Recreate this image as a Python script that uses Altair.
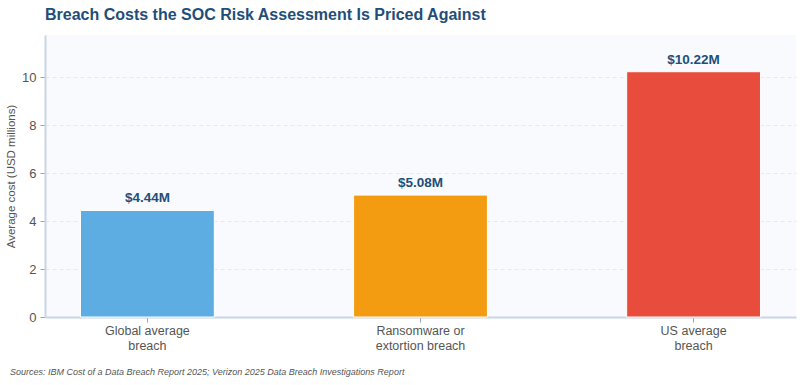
import altair as alt
import pandas as pd

categories = ["Global average\nbreach", "Ransomware or\nextortion breach", "US average\nbreach"]
values = [4.44, 5.08, 10.22]
colors = ["#5dade2", "#f39c12", "#e74c3c"]
source_note = "Sources: IBM Cost of a Data Breach Report 2025; Verizon 2025 Data Breach Investigations Report"

df = pd.DataFrame({"category": categories, "value": values, "color": colors})

FONT = "Liberation Sans"

x_enc = alt.X(
    "category:N",
    sort=categories,
    scale=alt.Scale(paddingInner=0.51, paddingOuter=0.13),
    axis=alt.Axis(
        title=None,
        labelAngle=0,
        labelExpr="split(datum.value, '\\n')",
        labelFontSize=12.5,
        labelColor="#555555",
        labelFont=FONT,
        labelLineHeight=15,
        labelPadding=2,
        tickColor="#9aa5b1",
        tickSize=5,
        domainColor="#c9d6e6",
        domainWidth=2,
        grid=False,
    ),
)

y_enc = alt.Y(
    "value:Q",
    scale=alt.Scale(domain=[0, 11.75], nice=False),
    axis=alt.Axis(
        title="Average cost (USD millions)",
        titleFont=FONT,
        titleFontSize=11.5,
        titleFontWeight="normal",
        titleColor="#555555",
        titlePadding=5,
        values=[0, 2, 4, 6, 8, 10],
        labelFontSize=13,
        labelColor="#555555",
        labelFont=FONT,
        labelPadding=4,
        tickColor="#9aa5b1",
        tickSize=5,
        domainColor="#c9d6e6",
        domainWidth=2,
        gridColor="#e6e9ef",
        gridDash=[4, 3],
        gridWidth=1,
    ),
)

base = alt.Chart(df).encode(x=x_enc, y=y_enc)

bars = base.mark_bar(stroke="white", strokeWidth=1).encode(
    color=alt.Color("color:N", scale=None)
)

labels = base.transform_calculate(
    lbl="'$' + format(datum.value, '.2f') + 'M'"
).mark_text(
    baseline="bottom", dy=-5, font=FONT, fontSize=13.5, fontWeight="bold", color="#1f4e79"
).encode(text="lbl:N")

note = alt.Chart(pd.DataFrame({"t": [source_note]})).mark_text(
    align="left", baseline="middle", font=FONT, fontSize=9, fontStyle="italic", color="#555555"
).encode(text="t:N", x=alt.value(-35), y=alt.value(337))

chart = alt.layer(bars, labels, note).properties(
    width=751,
    height=282,
    padding={"left": 45, "top": 35, "right": 4, "bottom": 68},
    autosize=alt.AutoSizeParams(type="none"),
    background="white",
    title=alt.Title(
        "Breach Costs the SOC Risk Assessment Is Priced Against",
        anchor="start",
        frame="group",
        font=FONT,
        fontSize=16,
        fontWeight="bold",
        color="#1f4e79",
        offset=12,
    ),
).configure_view(fill="#f8fafd", stroke=None)

chart.save("out.html", embed_options={"renderer": "svg", "actions": False})
